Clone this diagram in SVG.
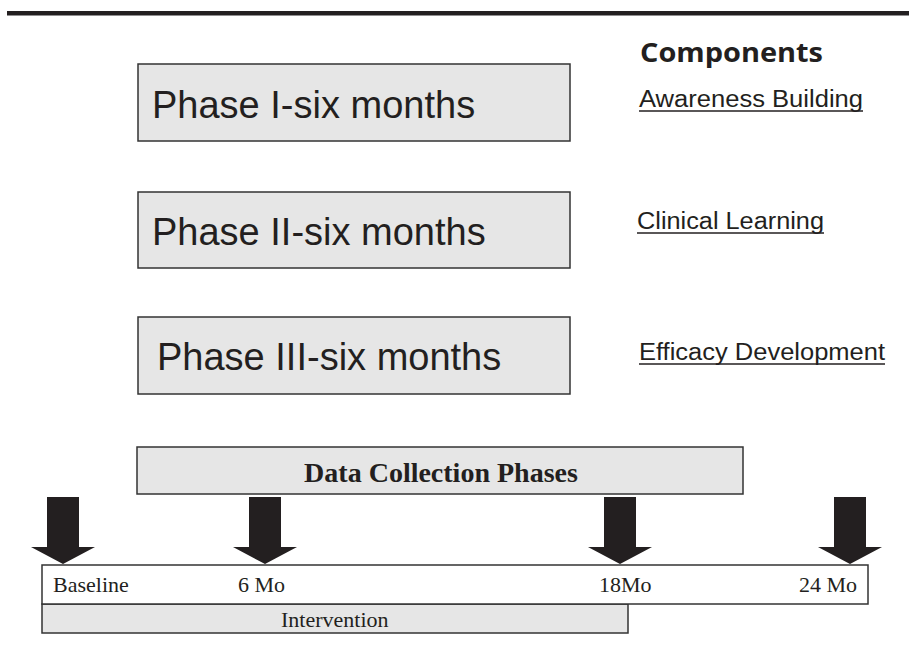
<svg xmlns="http://www.w3.org/2000/svg" width="909" height="668" viewBox="0 0 909 668">
  <style>
    .box { fill: #e6e6e6; stroke: #333; stroke-width: 1.5; }
    .white { fill: #fff; stroke: #333; stroke-width: 1.5; }
    .phase { font-family: "Liberation Sans", Arial, sans-serif; font-size: 38px; fill: #231f20; }
    .comp { font-family: "Liberation Sans", Arial, sans-serif; font-size: 23px; fill: #231f20; }
    .ul { stroke: #231f20; stroke-width: 1.5; }
    .head { font-family: "Open Sans", "Noto Sans", sans-serif; font-size: 27px; font-weight: bold; fill: #231f20; }
    .serif { font-family: "Liberation Serif", "Times New Roman", serif; font-size: 22px; fill: #231f20; }
    .serifb { font-family: "Liberation Serif", "Times New Roman", serif; font-size: 28px; font-weight: bold; fill: #231f20; }
    .arrow { fill: #231f20; }
  </style>
  <defs>
    <!-- down arrow, tip at origin -->
    <polygon id="down" points="-16,-67 16,-67 16,-17 32,-17 0,0 -32,-17 -16,-17"/>
  </defs>

  <!-- header rule -->
  <rect x="7" y="11" width="902" height="4.5" fill="#231f20"/>

  <g id="components-title">
    <text class="head" x="640" y="62" textLength="183" lengthAdjust="spacingAndGlyphs">Components</text>
  </g>

  <g id="phase1">
    <rect class="box" x="138" y="64" width="432" height="77"/>
    <text class="phase" x="152" y="118">Phase I-six months</text>
  </g>
  <g id="phase2">
    <rect class="box" x="138" y="192" width="432" height="76"/>
    <text class="phase" x="152" y="245">Phase II-six months</text>
  </g>
  <g id="phase3">
    <rect class="box" x="138" y="317" width="432" height="77"/>
    <text class="phase" x="157" y="370">Phase III-six months</text>
  </g>

  <g id="comp-awareness">
    <text class="comp" x="639" y="107" textLength="224" lengthAdjust="spacingAndGlyphs">Awareness Building</text>
    <line class="ul" x1="639" y1="111" x2="863" y2="111"/>
  </g>
  <g id="comp-clinical">
    <text class="comp" x="637" y="229" textLength="187" lengthAdjust="spacingAndGlyphs">Clinical Learning</text>
    <line class="ul" x1="637" y1="233" x2="824" y2="233"/>
  </g>
  <g id="comp-efficacy">
    <text class="comp" x="639" y="360" textLength="246" lengthAdjust="spacingAndGlyphs">Efficacy Development</text>
    <line class="ul" x1="639" y1="364" x2="885" y2="364"/>
  </g>

  <g id="data-collection">
    <rect class="box" x="137" y="447" width="606" height="47"/>
    <text class="serifb" x="441" y="482" text-anchor="middle">Data Collection Phases</text>
  </g>

  <g id="intervention">
    <rect class="box" x="42" y="604" width="586" height="29"/>
    <text class="serif" x="281" y="627">Intervention</text>
  </g>

  <g id="timeline">
    <rect class="white" x="42" y="565" width="826" height="39"/>
    <text class="serif" x="53" y="592">Baseline</text>
    <text class="serif" x="238" y="592">6 Mo</text>
    <text class="serif" x="599" y="592">18Mo</text>
    <text class="serif" x="857" y="592" text-anchor="end">24 Mo</text>
  </g>

  <g id="connectors">
    <use href="#down" class="arrow" transform="translate(63,564)"/>
    <use href="#down" class="arrow" transform="translate(265,564)"/>
    <use href="#down" class="arrow" transform="translate(620,564)"/>
    <use href="#down" class="arrow" transform="translate(850,564)"/>
  </g>
</svg>
